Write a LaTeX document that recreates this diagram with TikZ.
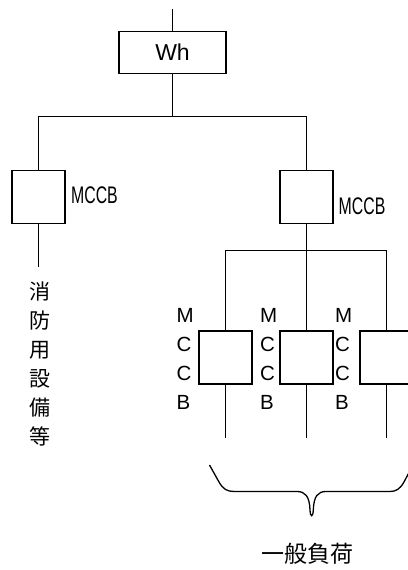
\documentclass[tikz,border=0pt]{standalone}
\usepackage{fontspec}
\setmainfont{Liberation Sans}
\newfontfamily\narrowfont[FakeStretch=0.66]{Liberation Sans}
\newfontfamily\cjk{Noto Sans CJK JP}
\usetikzlibrary{positioning}
\tikzset{
	breaker/.style={draw, line width=1.3pt, minimum width=53pt, minimum height=53pt, inner sep=0pt, outer sep=0pt},
	meter/.style={draw, line width=1.3pt, minimum width=107pt, minimum height=42.5pt, inner sep=0pt, outer sep=0pt, font=\fontsize{23}{23}\selectfont},
	feed/.style={line width=1.3pt},
	narrowlabel/.style={inner sep=0pt, font=\narrowfont\fontsize{24}{24}\selectfont},
	stacklabel/.style={inner sep=0pt, align=left, anchor=north west, font=\fontsize{20.5}{29}\selectfont},
	kanjilabel/.style={inner sep=0pt, align=center, anchor=north, font=\cjk\fontsize{21}{29}\selectfont}
}

\begin{document}
\begin{tikzpicture}[x=1pt,y=-1pt]
\useasboundingbox (0,0) rectangle (407,570);

\node[meter] (wh) at (172.5,52.5) {Wh};
\node[breaker] (left) at (38.5,197) {};
\node[breaker] (right) at (306.5,197) {};
\node[breaker] (a) at (225.5,357.5) {};
\node[breaker] (b) at (306.5,357.5) {};
\node[breaker] (c) at (386.5,357.5) {};

\coordinate (top) at (172.5,9);
\coordinate (mainbus) at (172.5,116.5);
\coordinate (lefttail) at (38.5,267);
\coordinate (subbus) at (306.5,250.5);
\foreach \br in {a,b,c}
	\coordinate (\br tail) at (\br |- 0,438);

\draw[feed] (top) -- (wh);
\draw[feed] (wh) -- (mainbus);
\draw[feed] (left) |- (mainbus) -| (right);
\draw[feed] (left) -- (lefttail);
\draw[feed] (right) -- (subbus);
\draw[feed] (a) |- (subbus) -| (c);
\draw[feed] (b) -- (subbus);
\foreach \br in {a,b,c}
	\draw[feed] (\br) -- (\br tail);

\node[narrowlabel] (leftlabel) at (94.5,195) {MCCB};
\node[narrowlabel] (rightlabel) at (362,206) {MCCB};

\node[stacklabel] (mcb1) at (176.5,308) {M\\C\\C\\B};
\node[stacklabel] (mcb2) at (260,308) {M\\C\\C\\B};
\node[stacklabel] (mcb3) at (335,308) {M\\C\\C\\B};

\node[kanjilabel] (fire) at (40,282) {消\\防\\用\\設\\備\\等};
\node[inner sep=0pt, font=\cjk\fontsize{23}{23}\selectfont] (general) at (307.5,554) {一般負荷};

% brace under the tails
\draw[feed] (209.5,465)
	-- (219,482) .. controls (223,489) and (227,491.5) .. (234,491.5)
	-- (297,491.5) .. controls (305,491.5) and (309.5,496) .. (310,510)
	.. controls (310.3,517.5) and (313,517.5) .. (313.3,510)
	.. controls (313.8,496) and (318,491.5) .. (326,491.5)
	-- (390,491.5) .. controls (396,491.5) and (400,489) .. (404,482)
	-- (413,465);
\end{tikzpicture}
\end{document}
